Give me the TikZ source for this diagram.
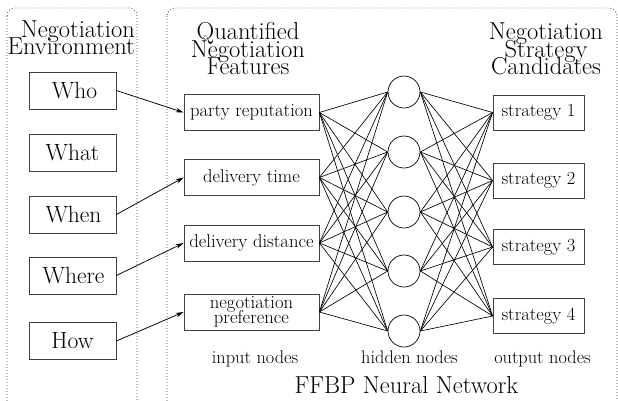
\documentclass[tikz,border=0pt]{standalone}
\usetikzlibrary{arrows.meta}
\begin{document}
\begin{tikzpicture}[x=1pt,y=-1pt,
  frame/.style={draw=black!75,line width=0.8pt,dash pattern=on 0.8pt off 2.2pt,rounded corners=8pt},
  envbox/.style={draw=black!75,line width=0.8pt,minimum width=87pt,minimum height=37pt,inner sep=0pt,font=\fontsize{23.5}{20}\selectfont},
  inbox/.style={draw=black!75,line width=0.8pt,minimum width=135pt,minimum height=36pt,inner sep=0pt,align=center,font=\fontsize{18.6}{17}\selectfont},
  outbox/.style={draw=black!75,line width=0.8pt,minimum width=91pt,minimum height=35pt,inner sep=0pt,font=\fontsize{18.5}{17}\selectfont},
  hid/.style={draw=black,line width=0.7pt,circle,minimum size=32pt,inner sep=0pt},
  head/.style={anchor=base,inner sep=0pt,font=\fontsize{24.5}{17}\selectfont},
  lab/.style={anchor=base,inner sep=0pt,font=\fontsize{18.3}{17}\selectfont},
  link/.style={draw=black,line width=0.65pt},
  feed/.style={draw=black,line width=0.75pt,-{Stealth[length=8pt,width=4.5pt]}}]
\useasboundingbox (0,0) rectangle (618,400);
\clip (0,0) rectangle (618,400);
% frames
\draw[frame] (7,8) rectangle (137,415);
\draw[frame] (167,8) rectangle (617,415);
% headers
\node[head,anchor=base east] (h1a) at (135,37) {Negotiation};
\node[head,anchor=base east] (h1b) at (135,54) {Environment};
\node[head] (h2a) at (248,39) {Quantified};
\node[head] (h2b) at (248,57) {Negotiation};
\node[head] (h2c) at (248,74) {Features};
\node[head] (h3a) at (546,39) {Negotiation};
\node[head] (h3b) at (546,57) {Strategy};
\node[head] (h3c) at (546,74) {Candidates};
% environment boxes
\node[envbox] (who) at (72.5,90.5) {\hspace{4pt}Who};
\node[envbox] (what) at (72.5,152.5) {What};
\node[envbox] (when) at (72.5,214.5) {\hspace{2pt}When};
\node[envbox] (where) at (72.5,275.5) {\hspace{2pt}Where};
\node[envbox] (how) at (72.5,341) {How};
% input nodes
\node[inbox] (in1) at (251.5,112.5) {party reputation};
\node[inbox] (in2) at (251.5,177.5) {delivery time};
\node[inbox] (in3) at (251.5,243) {delivery distance};
\node[inbox] (in4) at (251.5,312) {negotiation\\[-2.5pt]preference};
% hidden nodes
\node[hid] (h1) at (404,92) {};
\node[hid] (h2) at (404,152) {};
\node[hid] (h3) at (404,212) {};
\node[hid] (h4) at (404,271) {};
\node[hid] (h5) at (404,331) {};
% output nodes
\node[outbox] (o1) at (538.5,112.5) {strategy 1};
\node[outbox] (o2) at (538.5,180.5) {strategy 2};
\node[outbox] (o3) at (538.5,247) {strategy 3};
\node[outbox] (o4) at (538.5,316) {strategy 4};
% links
\foreach \i in {1,...,4}{
  \foreach \h in {1,...,5}{
    \draw[link] (in\i.east) -- (h\h.west);
    \draw[link] (h\h.east) -- (o\i.west);
  }
}
% feeding arrows
\draw[feed] (who.east) -- (in1.west);
\draw[feed] (when.east) -- (in2.west);
\draw[feed] (where.east) -- (in3.west);
\draw[feed] (how.east) -- (in4.west);
% labels
\node[lab] (l1) at (255,363) {input nodes};
\node[lab] (l2) at (409.5,363) {hidden nodes};
\node[lab] (l3) at (542.5,363) {output nodes};
\node[head] (l4) at (406.5,393) {FFBP Neural Network};
\end{tikzpicture}
\end{document}
